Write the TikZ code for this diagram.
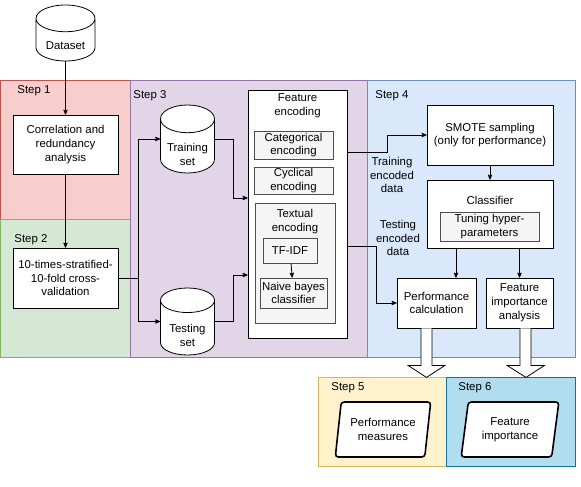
\documentclass[tikz,border=0pt]{standalone}
\usepackage{fontspec}
\setmainfont{Liberation Sans}
\usetikzlibrary{arrows,shapes.geometric,calc}

\definecolor{stepone}{HTML}{F8CECC}
\definecolor{steponeline}{HTML}{B85450}
\definecolor{steptwo}{HTML}{D5E8D4}
\definecolor{steptwoline}{HTML}{82B366}
\definecolor{stepthree}{HTML}{E1D5E7}
\definecolor{stepthreeline}{HTML}{9673A6}
\definecolor{stepfour}{HTML}{DAE8FC}
\definecolor{stepfourline}{HTML}{6C8EBF}
\definecolor{stepfive}{HTML}{FFF2CC}
\definecolor{stepfiveline}{HTML}{D6B656}
\definecolor{stepsix}{HTML}{B1DDF0}
\definecolor{stepsixline}{HTML}{10739E}
\definecolor{subfill}{HTML}{F5F5F5}
\definecolor{subline}{HTML}{4D4D4D}

% text of a cylinder sits below its top
\newcommand{\dbtext}[2]{\raisebox{-#1}[0pt][0pt]{\begin{tabular}{@{}c@{}}#2\end{tabular}}}

\begin{document}
\begin{tikzpicture}[->,>=stealth',x=1pt,y=-1pt,line width=0.8pt]

        \tikzstyle{every node}=[font=\fontsize{11.4}{13.8}\selectfont]
        \tikzstyle{region}=[-,line width=0.7pt]
        \tikzstyle{steplabel}=[anchor=west,inner sep=0pt]
        \tikzstyle{box}=[draw,fill=white,align=center,inner sep=1pt]
        \tikzstyle{subbox}=[draw=subline,fill=subfill,align=center,inner sep=1pt]
        \tikzstyle{db}=[draw,fill=white,cylinder,shape border rotate=90,aspect=0.68,inner sep=0pt,anchor=shape center]
        \tikzstyle{io}=[draw,fill=white,trapezium,trapezium left angle=80,trapezium right angle=100,
                        trapezium stretches=true,rounded corners=3pt,line width=1.6pt,align=center]

        \useasboundingbox (0,0) rectangle (581,487);

        % step regions
        \draw[region,fill=stepone,draw=steponeline]     (0,80)    rectangle (130,219);
        \draw[region,fill=steptwo,draw=steptwoline]     (0,219)   rectangle (130,357);
        \draw[region,fill=stepthree,draw=stepthreeline] (130,80)  rectangle (367,357);
        \draw[region,fill=stepfour,draw=stepfourline]   (367,80)  rectangle (575,357);
        \draw[region,fill=stepfive,draw=stepfiveline]   (318,377) rectangle (446,466);
        \draw[region,fill=stepsix,draw=stepsixline]     (446,377) rectangle (575,466);

        \node[steplabel] (s1) at (17,91)   {Step 1};
        \node[steplabel] (s2) at (14,240)  {Step 2};
        \node[steplabel] (s3) at (133,96)  {Step 3};
        \node[steplabel] (s4) at (375,96)  {Step 4};
        \node[steplabel] (s5) at (331,388) {Step 5};
        \node[steplabel] (s6) at (458,388) {Step 6};

        % step 1 and 2
        \node[db,minimum width=59,minimum height=56] (data) at (65.5,33) {\dbtext{10pt}{Dataset}};
        \node[box,minimum width=105,minimum height=59] (corr) at (65.5,144.5) {Correlation and\\redundancy\\analysis};
        \node[box,minimum width=105,minimum height=60] (cv) at (65.5,278) {10-times-stratified-\\10-fold cross-\\validation};

        % step 3
        \node[db,minimum width=54,minimum height=68] (train) at (187.5,139) {\dbtext{12pt}{Training\\set}};
        \node[db,minimum width=54,minimum height=67] (test) at (187.5,321.5) {\dbtext{12pt}{Testing\\set}};

        \node[box,minimum width=99,minimum height=248,
              label={[align=center,anchor=north,inner sep=0pt,yshift=-4]north:Feature\\encoding}] (fenc) at (297.5,214) {};
        \node[subbox,minimum width=79,minimum height=28] (cat) at (293.5,145) {Categorical\\encoding};
        \node[subbox,minimum width=79,minimum height=27] (cyc) at (293.5,180.5) {Cyclical\\encoding};
        \node[subbox,minimum width=80,minimum height=120,
              label={[align=center,anchor=north,inner sep=0pt,yshift=-6]north:Textual\\encoding}] (text) at (295,263) {};
        \node[subbox,minimum width=54,minimum height=25] (tfidf) at (290,251) {TF-IDF};
        \node[subbox,minimum width=67,minimum height=30] (nb) at (293.5,293) {Naive bayes\\classifier};

        % step 4
        \node[box,minimum width=126,minimum height=60] (smote) at (490,135) {SMOTE sampling\\(only for performance)};
        \node[box,minimum width=126,minimum height=68,
              label={[anchor=north,inner sep=0pt,yshift=-16]north:Classifier}] (clf) at (490,214) {};
        \node[subbox,minimum width=99,minimum height=29] (tune) at (489.5,226.5) {Tuning hyper-\\parameters};
        \node[box,minimum width=79,minimum height=50] (perf) at (436.5,303) {Performance\\calculation};
        \node[box,minimum width=67,minimum height=50] (fia) at (519.5,303) {Feature\\importance\\analysis};

        % step 5 and 6
        \node[io,minimum width=96,minimum height=55] (pm) at (383,429.5) {Performance\\measures};
        \node[io,minimum width=98,minimum height=55] (fi) at (510,429.5) {Feature\\importance};

        % connectors
        \draw (data.south) -- (corr);
        \draw (corr) -- (cv);
        \draw (cv.east) -- ++(20,0) |- (train.shape center -| train.west);
        \draw (cv.east) -- ++(20,0) |- (test.shape center -| test.west);
        \draw (train.shape center -| train.east) -- ++(18,0) |- (fenc.west |- 0,198);
        \draw (test.shape center -| test.east) -- ++(18,0) |- (fenc.west |- 0,275);
        \draw (tfidf) -- (nb);
        \draw (fenc.east |- 0,152) -- ++(40,0) |- (smote.west);
        \draw (fenc.east |- 0,246) -- ++(29,0) |- (perf.west);
        \draw (smote) -- (clf);
        \draw ([xshift=-34]clf.south) -- ([xshift=-34]clf.south |- perf.north);
        \draw (clf.south -| fia.north) -- (fia.north);

        \node[align=center] (trainlbl) at (392,175) {Training\\encoded\\data};
        \node[align=center] (testlbl) at (398,238) {Testing\\encoded\\data};

        % hollow arrows
        \draw[-,fill=white] ($(perf.south)+(-15.5,0)$) -- ++(0,37) -- ++(-13,0) -- ++(18.5,12) -- ++(18.5,-12) -- ++(-13,0) -- ++(0,-37);
        \draw[-,fill=white] ($(fia.south)+(0.5,0)$) -- ++(0,37) -- ++(-13,0) -- ++(19,12) -- ++(18.5,-12) -- ++(-13.5,0) -- ++(0,-37);

\end{tikzpicture}
\end{document}
